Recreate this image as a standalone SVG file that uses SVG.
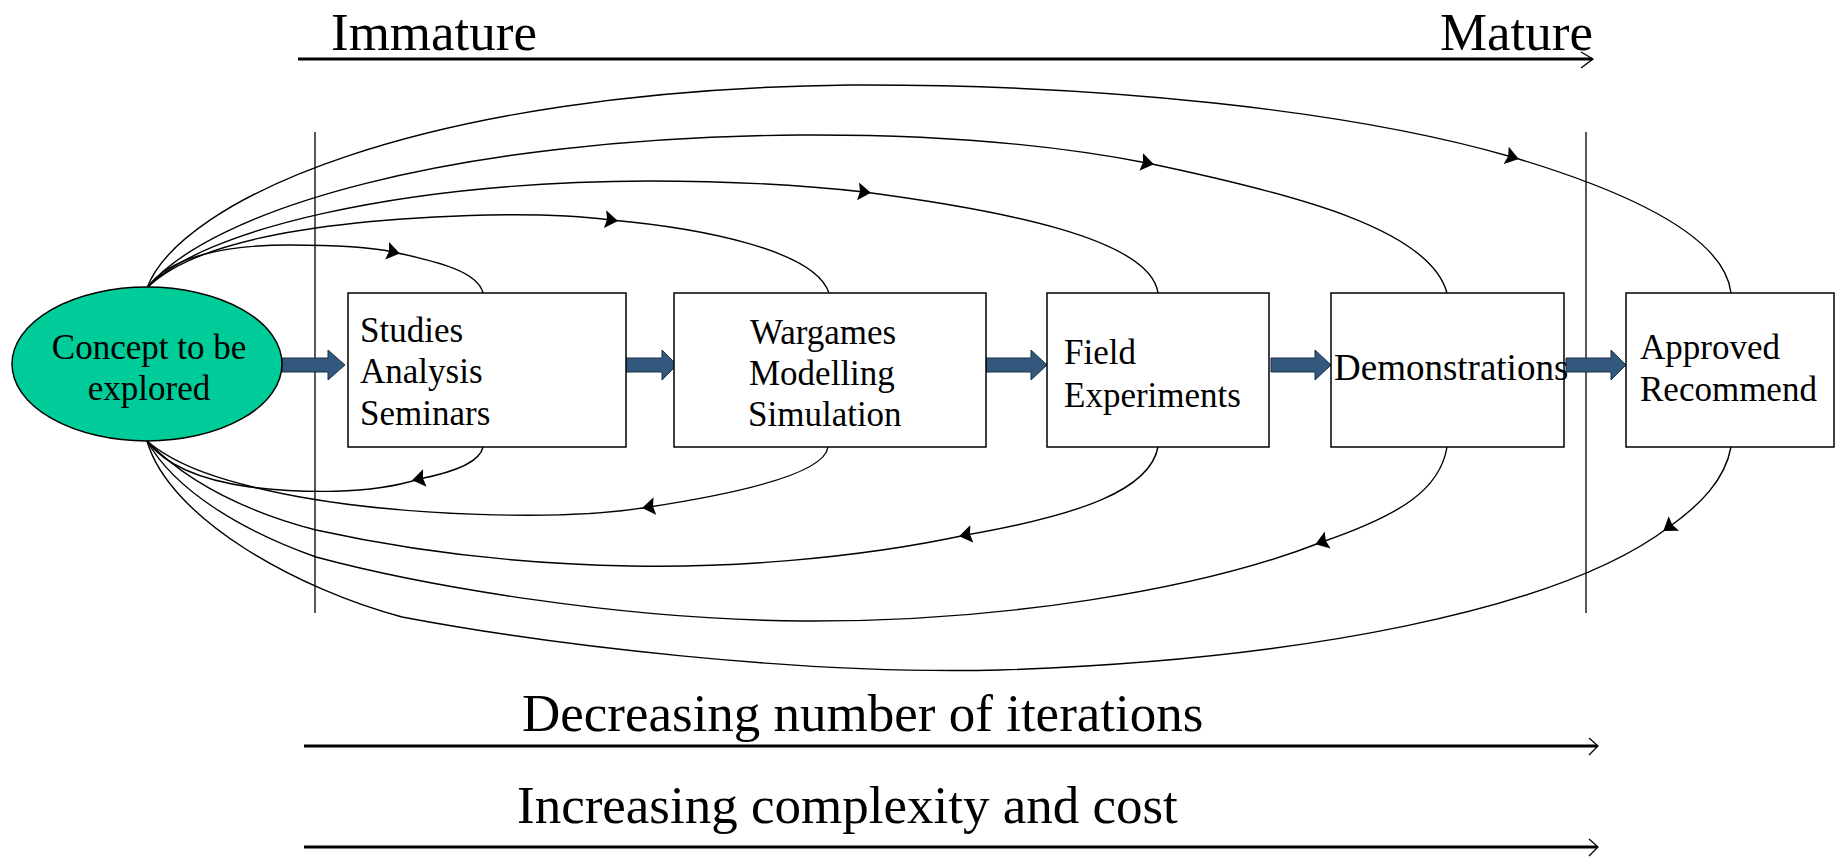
<svg xmlns="http://www.w3.org/2000/svg" width="1845" height="864" viewBox="0 0 1845 864">
<style>
.t{font-family:"Liberation Serif","Times New Roman",serif;fill:#000}
.big{font-size:53px}
.mid{font-size:35px}
.box{fill:#fff;stroke:#000;stroke-width:1.5}
.blk{fill:#33587D;stroke:#1c2f44;stroke-width:1}
.c{fill:none;stroke:#000;stroke-width:1.4}
.axis{fill:none;stroke:#000;stroke-width:2.8}
.thin{fill:none;stroke:#000;stroke-width:1.3}
</style>
<defs>
<marker id="ah" viewBox="0 0 13 18" markerWidth="13" markerHeight="18" refX="6" refY="9" orient="auto" markerUnits="userSpaceOnUse">
<path d="M0,0 L13,9 L0,18 L2,9 z" fill="#000"/>
</marker>
</defs>
<rect width="1845" height="864" fill="#fff"/>

<g id="axis-top">
<text class="t big" x="331" y="50">Immature</text>
<text class="t big" x="1593" y="50" text-anchor="end">Mature</text>
<path class="axis" d="M298,59 L1592,59"/>
<path class="thin" stroke-width="2" d="M1581,52 L1593,59 L1581,68"/>
</g>

<g id="separators">
<line class="thin" x1="315" y1="132" x2="315" y2="613"/>
<line class="thin" x1="1586" y1="132" x2="1586" y2="613"/>
</g>

<g id="connectors">
<!-- upper loops -->
<path class="c" d="M147,288 C170,255 230,245 290,245 C330,245 370,247 393,252" marker-end="url(#ah)"/>
<path class="c" d="M393,252 C440,262 478,272 483,293"/>
<path class="c" d="M147,288 C190,245 300,220 488,215 C540,214 580,216 611,220" marker-end="url(#ah)"/>
<path class="c" d="M611,220 C700,228 815,250 829,293"/>
<path class="c" d="M147,288 C200,230 400,182 649,181 C740,181 810,186 864,192" marker-end="url(#ah)"/>
<path class="c" d="M864,192 C1000,210 1150,238 1158,293"/>
<path class="c" d="M147,288 C210,210 450,138 800,135 C960,134 1070,148 1147,163" marker-end="url(#ah)"/>
<path class="c" d="M1147,163 C1300,195 1430,230 1447,293"/>
<path class="c" d="M147,288 C180,200 420,90 850,85 C1100,84 1350,110 1512,157" marker-end="url(#ah)"/>
<path class="c" d="M1512,157 C1640,195 1725,240 1731,293"/>
<!-- lower loops -->
<path class="c" d="M483,447 C480,462 455,472 419,479" marker-end="url(#ah)"/>
<path class="c" d="M419,479 C370,495 300,493 250,487 C200,480 165,465 147,441"/>
<path class="c" d="M828,447 C825,470 760,490 649,507" marker-end="url(#ah)"/>
<path class="c" d="M649,507 C560,522 400,515 300,497 C220,482 175,465 147,441"/>
<path class="c" d="M1158,447 C1150,490 1080,515 966,535" marker-end="url(#ah)"/>
<path class="c" d="M966,535 C850,560 720,568 631,566 C520,564 420,553 316,530 C240,510 185,480 147,441"/>
<path class="c" d="M1447,447 C1440,490 1400,515 1322,542" marker-end="url(#ah)"/>
<path class="c" d="M1322,542 C1200,590 1000,622 804,621 C620,620 420,585 316,557 C240,530 175,490 147,441"/>
<path class="c" d="M1731,447 C1725,480 1700,505 1669,527" marker-end="url(#ah)"/>
<path class="c" d="M1669,527 C1560,610 1300,660 1000,670 C800,675 550,645 402,617 C300,590 170,520 147,441"/>
<!-- block arrows -->
<path class="blk" d="M282,358 L328,358 L328,350 L345,365 L328,380 L328,372 L282,372 z"/>
<path class="blk" d="M622,358 L662,358 L662,350 L677,365 L662,380 L662,372 L622,372 z"/>
<path class="blk" d="M986,358 L1031,358 L1031,350 L1047,365 L1031,380 L1031,372 L986,372 z"/>
<path class="blk" d="M1271,358 L1315,358 L1315,350 L1331,365 L1315,380 L1315,372 L1271,372 z"/>
<path class="blk" d="M1566,358 L1611,358 L1611,350 L1626,365 L1611,380 L1611,372 L1566,372 z"/>
</g>

<g id="concept">
<ellipse cx="147" cy="364" rx="135" ry="77" fill="#00CC99" stroke="#000" stroke-width="1.5"/>
<text class="t mid" x="149" y="359" text-anchor="middle">Concept to be</text>
<text class="t mid" x="149" y="400" text-anchor="middle">explored</text>
</g>

<g id="studies">
<rect class="box" x="348" y="293" width="278" height="154"/>
<text class="t mid" x="360" y="342">Studies</text>
<text class="t mid" x="360" y="383">Analysis</text>
<text class="t mid" x="360" y="425">Seminars</text>
</g>

<g id="wargames">
<rect class="box" x="674" y="293" width="312" height="154"/>
<text class="t mid" x="750" y="344">Wargames</text>
<text class="t mid" x="749" y="385">Modelling</text>
<text class="t mid" x="748" y="426">Simulation</text>
</g>

<g id="field">
<rect class="box" x="1047" y="293" width="222" height="154"/>
<text class="t mid" x="1064" y="364">Field</text>
<text class="t mid" x="1064" y="407">Experiments</text>
</g>

<g id="demonstrations">
<rect class="box" x="1331" y="293" width="233" height="154"/>
<text class="t" font-size="37" x="1334" y="380">Demonstrations</text>
</g>

<g id="approved">
<rect class="box" x="1626" y="293" width="208" height="154"/>
<text class="t mid" x="1640" y="359">Approved</text>
<text class="t mid" x="1640" y="401">Recommend</text>
</g>

<g id="axis-bottom">
<text class="t big" x="522" y="731">Decreasing number of iterations</text>
<path class="axis" d="M304,746 L1597,746"/>
<path class="thin" stroke-width="2" d="M1589,738 L1598,746 L1589,755"/>
<text class="t big" x="517" y="823">Increasing complexity and cost</text>
<path class="axis" d="M304,847 L1597,847"/>
<path class="thin" stroke-width="2" d="M1589,839 L1598,847 L1589,856"/>
</g>
</svg>
